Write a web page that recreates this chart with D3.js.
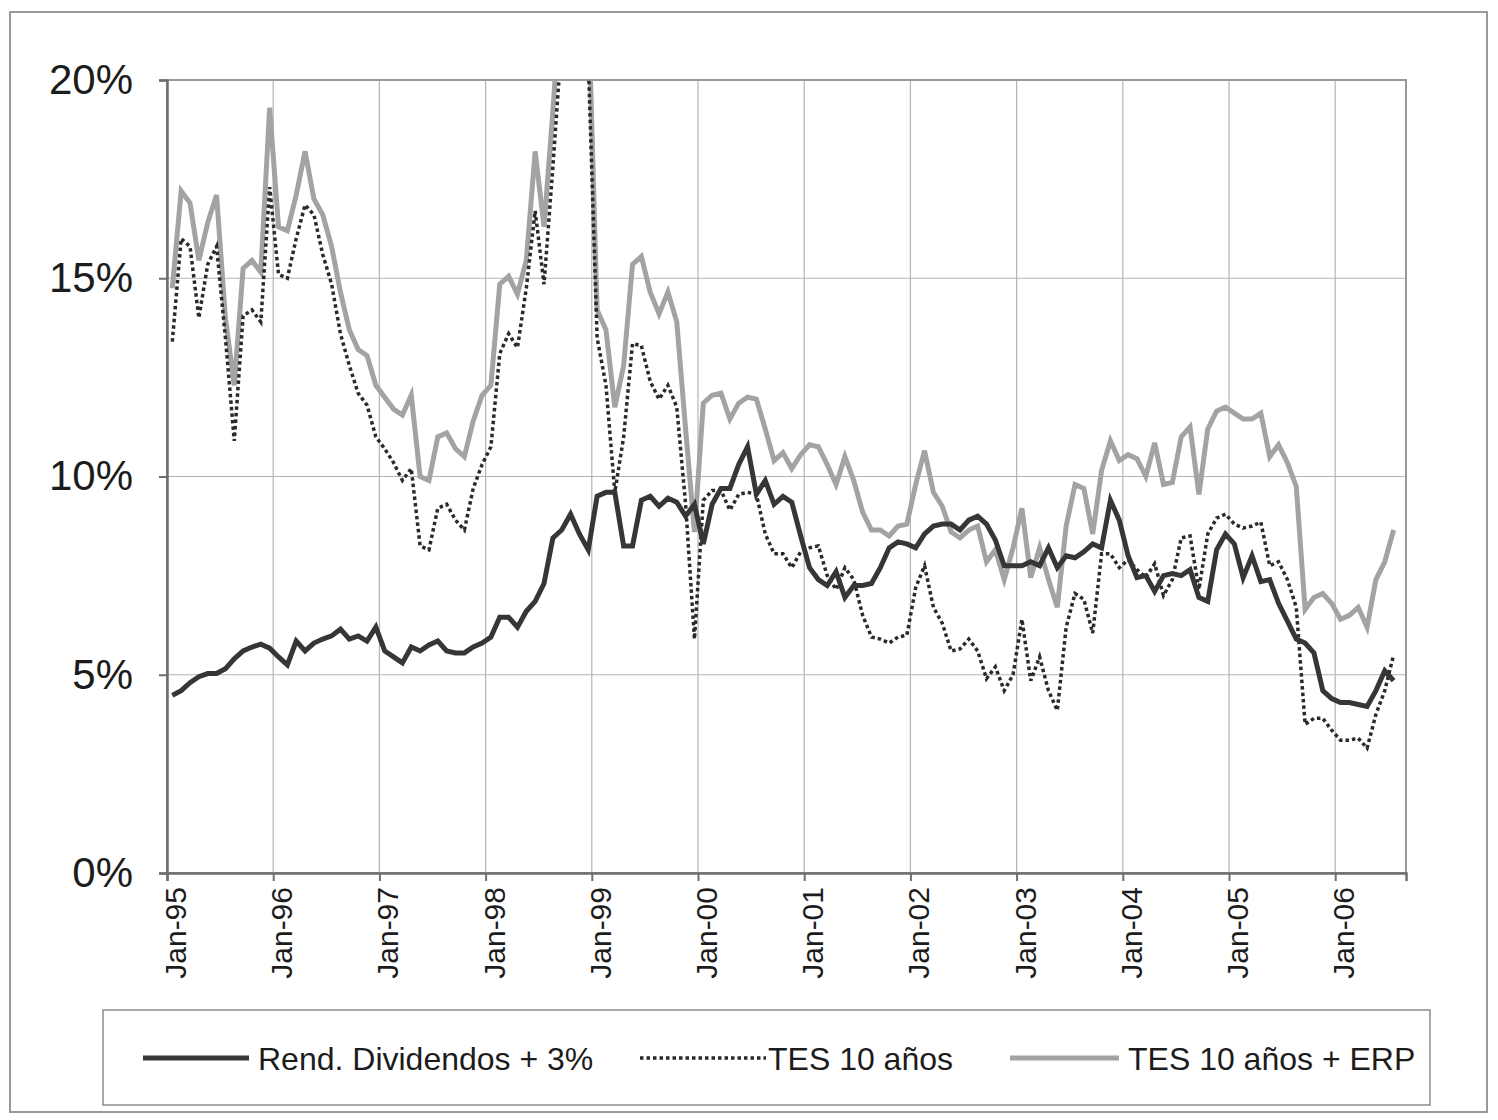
<!DOCTYPE html>
<html>
<head>
<meta charset="utf-8">
<script src="https://cdn.jsdelivr.net/npm/d3@7"></script>
<style>
  body { margin: 0; background: #fff; }
  text { font-family: "Liberation Sans", Arial, sans-serif; fill: #1c1c1c; }
</style>
</head>
<body>
<svg id="chart" width="1498" height="1120"></svg>
<script>
// monthly data, Jan-95 .. Jul-06 (values in %)
var tickLabels = ["Jan-95","Jan-96","Jan-97","Jan-98","Jan-99","Jan-00","Jan-01","Jan-02","Jan-03","Jan-04","Jan-05","Jan-06"];
var yTicks = [0, 5, 10, 15, 20];
var seriesNames = ["Rend. Dividendos + 3%", "TES 10 años", "TES 10 años + ERP"];

var divYield = [
  4.48,4.6,4.8,4.95,5.03,5.03,5.15,5.4,5.6,5.7,5.77,5.67,
  5.45,5.25,5.85,5.6,5.8,5.9,5.98,6.15,5.9,5.98,5.85,6.2,
  5.6,5.45,5.3,5.7,5.6,5.75,5.85,5.6,5.55,5.55,5.7,5.8,
  5.95,6.45,6.45,6.2,6.6,6.85,7.3,8.45,8.65,9.05,8.55,8.15,
  9.5,9.6,9.6,8.25,8.25,9.4,9.5,9.25,9.45,9.35,9.0,9.3,
  8.3,9.3,9.7,9.7,10.3,10.75,9.55,9.9,9.3,9.5,9.35,8.5,
  7.7,7.4,7.25,7.6,6.95,7.25,7.25,7.3,7.7,8.2,8.35,8.3,
  8.2,8.55,8.75,8.8,8.8,8.65,8.9,9.0,8.8,8.4,7.75,7.75,
  7.75,7.85,7.75,8.2,7.7,8.0,7.95,8.1,8.3,8.2,9.4,8.9,
  8.0,7.45,7.5,7.1,7.5,7.55,7.5,7.65,6.95,6.85,8.15,8.55,
  8.3,7.45,8.0,7.35,7.4,6.8,6.35,5.9,5.8,5.55,4.6,4.4,
  4.3,4.3,4.25,4.2,4.6,5.1,4.85
];

var tes10 = [
  13.4,16.0,15.8,14.0,15.35,15.8,13.5,10.9,14.05,14.2,13.9,17.3,
  15.1,15.0,16.0,16.85,16.6,15.6,14.85,13.6,12.8,12.1,11.8,11.0,
  10.7,10.35,9.9,10.2,8.25,8.15,9.2,9.3,8.9,8.65,9.7,10.3,
  10.75,13.1,13.6,13.25,14.75,16.7,14.85,17.8,21.0,22.5,22.0,20.5,
  13.5,12.3,9.6,11.0,13.35,13.3,12.4,11.95,12.3,11.75,9.3,5.9,
  9.4,9.65,9.65,9.15,9.55,9.6,9.55,8.55,8.05,8.05,7.7,8.1,
  8.2,8.25,7.5,7.15,7.7,7.4,6.5,5.95,5.9,5.8,5.95,6.0,
  7.2,7.75,6.7,6.3,5.6,5.65,5.9,5.6,4.9,5.2,4.6,5.0,
  6.4,4.85,5.45,4.6,4.1,6.2,7.05,6.9,6.05,8.05,8.05,7.7,
  7.9,7.65,7.45,7.8,7.0,7.4,8.45,8.5,7.15,8.55,8.95,9.05,
  8.8,8.7,8.75,8.85,7.75,7.85,7.4,6.7,3.75,3.9,3.9,3.6,
  3.35,3.35,3.4,3.15,4.0,4.6,5.5
];

var tesErp = [
  14.75,17.2,16.9,15.45,16.4,17.1,14.0,12.3,15.25,15.45,15.15,19.3,
  16.3,16.2,17.1,18.2,17.0,16.6,15.8,14.65,13.7,13.2,13.05,12.3,
  12.0,11.7,11.55,12.05,10.0,9.9,11.0,11.1,10.7,10.5,11.4,12.05,
  12.3,14.85,15.05,14.6,15.45,18.2,16.3,19.2,22.5,24.0,23.5,22.0,
  14.2,13.7,11.75,12.8,15.35,15.55,14.65,14.1,14.65,13.9,11.2,8.6,
  11.85,12.05,12.1,11.45,11.85,12.0,11.95,11.2,10.4,10.6,10.2,10.55,
  10.8,10.75,10.3,9.8,10.5,9.9,9.1,8.65,8.65,8.5,8.75,8.8,
  9.8,10.65,9.6,9.25,8.6,8.45,8.65,8.75,7.85,8.15,7.4,8.2,
  9.2,7.45,8.2,7.4,6.7,8.75,9.8,9.7,8.55,10.15,10.9,10.4,
  10.55,10.45,10.0,10.85,9.8,9.85,11.0,11.25,9.55,11.2,11.65,11.75,
  11.6,11.45,11.45,11.6,10.5,10.8,10.35,9.75,6.65,6.95,7.05,6.8,
  6.4,6.5,6.7,6.2,7.4,7.85,8.65
];

var svg = d3.select("#chart");
var pL = 167, pR = 1406, pT = 80, pB = 873;

var x = d3.scaleLinear().domain([0, 140]).range([pL, pR]);
var y = d3.scaleLinear().domain([0, 20]).range([pB, pT]);

// outer frame
svg.append("rect")
  .attr("x", 10).attr("y", 12).attr("width", 1477).attr("height", 1100)
  .attr("fill", "none").attr("stroke", "#9a9a9a").attr("stroke-width", 2);

// gridlines
svg.append("g").selectAll("line")
  .data(yTicks.slice(1))
  .enter().append("line")
  .attr("x1", pL).attr("x2", pR)
  .attr("y1", d => y(d)).attr("y2", d => y(d))
  .attr("stroke", "#b4b4b4").attr("stroke-width", 1.2);

svg.append("g").selectAll("line")
  .data(tickLabels.slice(1))
  .enter().append("line")
  .attr("x1", (d, i) => x((i + 1) * 12)).attr("x2", (d, i) => x((i + 1) * 12))
  .attr("y1", pT).attr("y2", pB)
  .attr("stroke", "#b4b4b4").attr("stroke-width", 1.2);

// plot border
svg.append("rect")
  .attr("x", pL).attr("y", pT).attr("width", pR - pL).attr("height", pB - pT)
  .attr("fill", "none").attr("stroke", "#9a9a9a").attr("stroke-width", 2);

// y axis
var yAxis = d3.axisLeft(y).tickValues(yTicks).tickSize(8).tickPadding(26)
  .tickFormat(d => d + "%");
svg.append("g")
  .attr("transform", `translate(${pL},0)`)
  .call(yAxis)
  .call(g => g.selectAll("text").style("font-size", "42px").attr("fill", "#1c1c1c"))
  .call(g => g.selectAll("line").attr("stroke", "#6e6e6e").attr("stroke-width", 2))
  .call(g => g.select(".domain").attr("stroke", "#6e6e6e").attr("stroke-width", 2.5));

// x axis
var xAxis = d3.axisBottom(x).tickValues(tickLabels.map((d, i) => i * 12))
  .tickSize(8).tickFormat((d, i) => tickLabels[i]);
svg.append("g")
  .attr("transform", `translate(0,${pB})`)
  .call(xAxis)
  .call(g => g.selectAll("line").attr("stroke", "#6e6e6e").attr("stroke-width", 2))
  .call(g => g.select(".domain").attr("stroke", "#6e6e6e").attr("stroke-width", 2.5))
  .call(g => g.selectAll("text")
    .style("font-size", "30px").attr("fill", "#1c1c1c")
    .attr("text-anchor", "end")
    .attr("dy", "0.35em")
    .attr("transform", "translate(8,14) rotate(-90)")
    .attr("x", 0).attr("y", 0));

// lines
svg.append("clipPath").attr("id", "plotClip")
  .append("rect").attr("x", pL).attr("y", pT).attr("width", pR - pL).attr("height", pB - pT);

var line = d3.line()
  .x((d, i) => x(i + 0.6))
  .y(d => y(d));

var plot = svg.append("g").attr("clip-path", "url(#plotClip)");

plot.append("path").datum(tesErp)
  .attr("d", line).attr("fill", "none")
  .attr("stroke", "#a3a3a3").attr("stroke-width", 5).attr("stroke-linejoin", "miter");

plot.append("path").datum(tes10)
  .attr("d", line).attr("fill", "none")
  .attr("stroke", "#2a2a2a").attr("stroke-width", 3.5).attr("stroke-dasharray", "3.5,3");

plot.append("path").datum(divYield)
  .attr("d", line).attr("fill", "none")
  .attr("stroke", "#363636").attr("stroke-width", 5).attr("stroke-linejoin", "miter");

// legend
var legend = svg.append("g");
legend.append("rect")
  .attr("x", 103).attr("y", 1010).attr("width", 1327).attr("height", 95)
  .attr("fill", "#fff").attr("stroke", "#8c8c8c").attr("stroke-width", 1.5);

var legendItems = [
  { name: seriesNames[0], x1: 143, x2: 249, tx: 258, color: "#363636", w: 5, dash: null },
  { name: seriesNames[1], x1: 640, x2: 766, tx: 768, color: "#2a2a2a", w: 3.5, dash: "3.5,3" },
  { name: seriesNames[2], x1: 1010, x2: 1119, tx: 1128, color: "#a3a3a3", w: 5, dash: null }
];
legendItems.forEach(function(d) {
  legend.append("line")
    .attr("x1", d.x1).attr("x2", d.x2).attr("y1", 1058).attr("y2", 1058)
    .attr("stroke", d.color).attr("stroke-width", d.w)
    .attr("stroke-dasharray", d.dash);
  legend.append("text")
    .attr("x", d.tx).attr("y", 1058).attr("dy", "0.36em")
    .style("font-size", "32px")
    .text(d.name);
});
</script>
</body>
</html>
